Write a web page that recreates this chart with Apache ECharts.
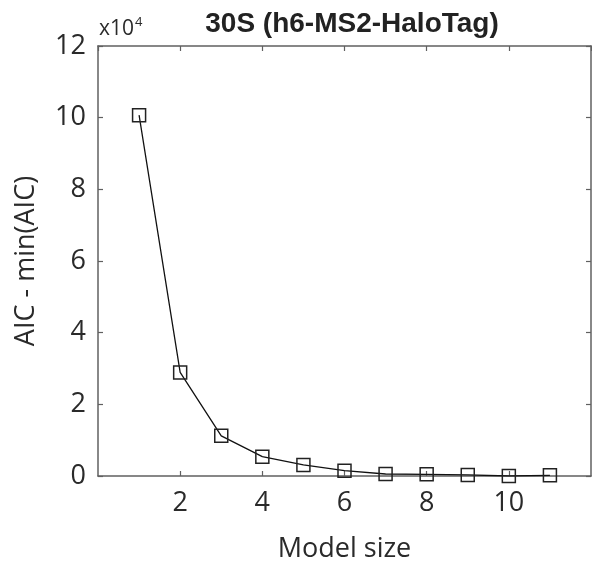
<!DOCTYPE html>
<html>
<head>
<meta charset="utf-8">
<script src="https://cdn.jsdelivr.net/npm/echarts@6/dist/echarts.min.js"></script>
<style>html,body{margin:0;padding:0;background:#fff;}#c{width:592px;height:568px;}</style>
</head>
<body>
<div id="c"></div>
<script>
const modelSize = [1, 2, 3, 4, 5, 6, 7, 8, 9, 10, 11];
const aicDiff = [100700, 28900, 11200, 5400, 3100, 1500, 560, 470, 300, 0, 200];
const xTicks = [2, 4, 6, 8, 10];
const yTicks = [0, 2, 4, 6, 8, 10, 12];
const titleText = '30S (h6-MS2-HaloTag)';
const xName = 'Model size';
const yName = 'AIC - min(AIC)';

const chart = echarts.init(document.getElementById('c'), null, {renderer: 'canvas'});
const font = '"Open Sans", "Noto Sans", sans-serif';
const axisCol = '#606060';
const textCol = '#2a2a2a';
const common = {
  axisLine: {show: true, onZero: false, lineStyle: {color: axisCol, width: 1.5}},
  axisTick: {show: true, inside: true, length: 5, lineStyle: {color: axisCol, width: 1.2}},
  splitLine: {show: false}
};
chart.setOption({
  animation: false,
  backgroundColor: '#fff',
  title: {
    text: titleText, left: 347, top: 5, textAlign: 'center',
    textStyle: {fontFamily: '"Liberation Sans", Arial, sans-serif', fontWeight: 'bold', fontSize: 28, color: '#222'}
  },
  graphic: [{
    type: 'text', left: 99, top: 16,
    style: {
      text: '{b|x10}{s|4}', fill: textCol,
      rich: {
        b: {fontFamily: font, fontSize: 21, fill: textCol, verticalAlign: 'bottom', lineHeight: 24},
        s: {fontFamily: font, fontSize: 13, fill: textCol, verticalAlign: 'top', lineHeight: 24, padding: [0,0,9,1]}
      }
    }
  }],
  grid: {left: 98, right: 1, top: 46, bottom: 92},
  xAxis: [
    Object.assign({
      type: 'value', min: 0, max: 12, interval: 2, position: 'bottom',
      name: xName, nameLocation: 'middle', nameGap: 60,
      nameTextStyle: {fontFamily: font, fontSize: 27, color: textCol},
      axisLabel: {
        fontFamily: font, fontSize: 27, color: textCol, margin: 14,
        showMinLabel: false, showMaxLabel: false,
        formatter: v => xTicks.includes(v) ? String(v) : ''
      }
    }, common),
    Object.assign({
      type: 'value', min: 0, max: 12, interval: 2, position: 'top',
      axisLabel: {show: false}
    }, common)
  ],
  yAxis: [
    Object.assign({
      type: 'value', min: 0, max: 120000, interval: 20000, position: 'left',
      name: yName, nameLocation: 'middle', nameGap: 58,
      nameTextStyle: {fontFamily: font, fontSize: 27, color: textCol},
      axisLabel: {
        fontFamily: font, fontSize: 27, color: textCol, margin: 12,
        formatter: v => { const t = v / 10000; return yTicks.includes(t) ? String(t) : ''; }
      }
    }, common),
    Object.assign({
      type: 'value', min: 0, max: 120000, interval: 20000, position: 'right',
      axisLabel: {show: false}
    }, common)
  ],
  series: [{
    type: 'line',
    data: modelSize.map((m, i) => [m, aicDiff[i]]),
    symbol: 'rect', symbolSize: 13,
    lineStyle: {color: '#111', width: 1.3},
    itemStyle: {color: 'rgba(255,255,255,0)', borderColor: '#222', borderWidth: 1.5},
    z: 5
  }]
});
</script>
</body>
</html>
